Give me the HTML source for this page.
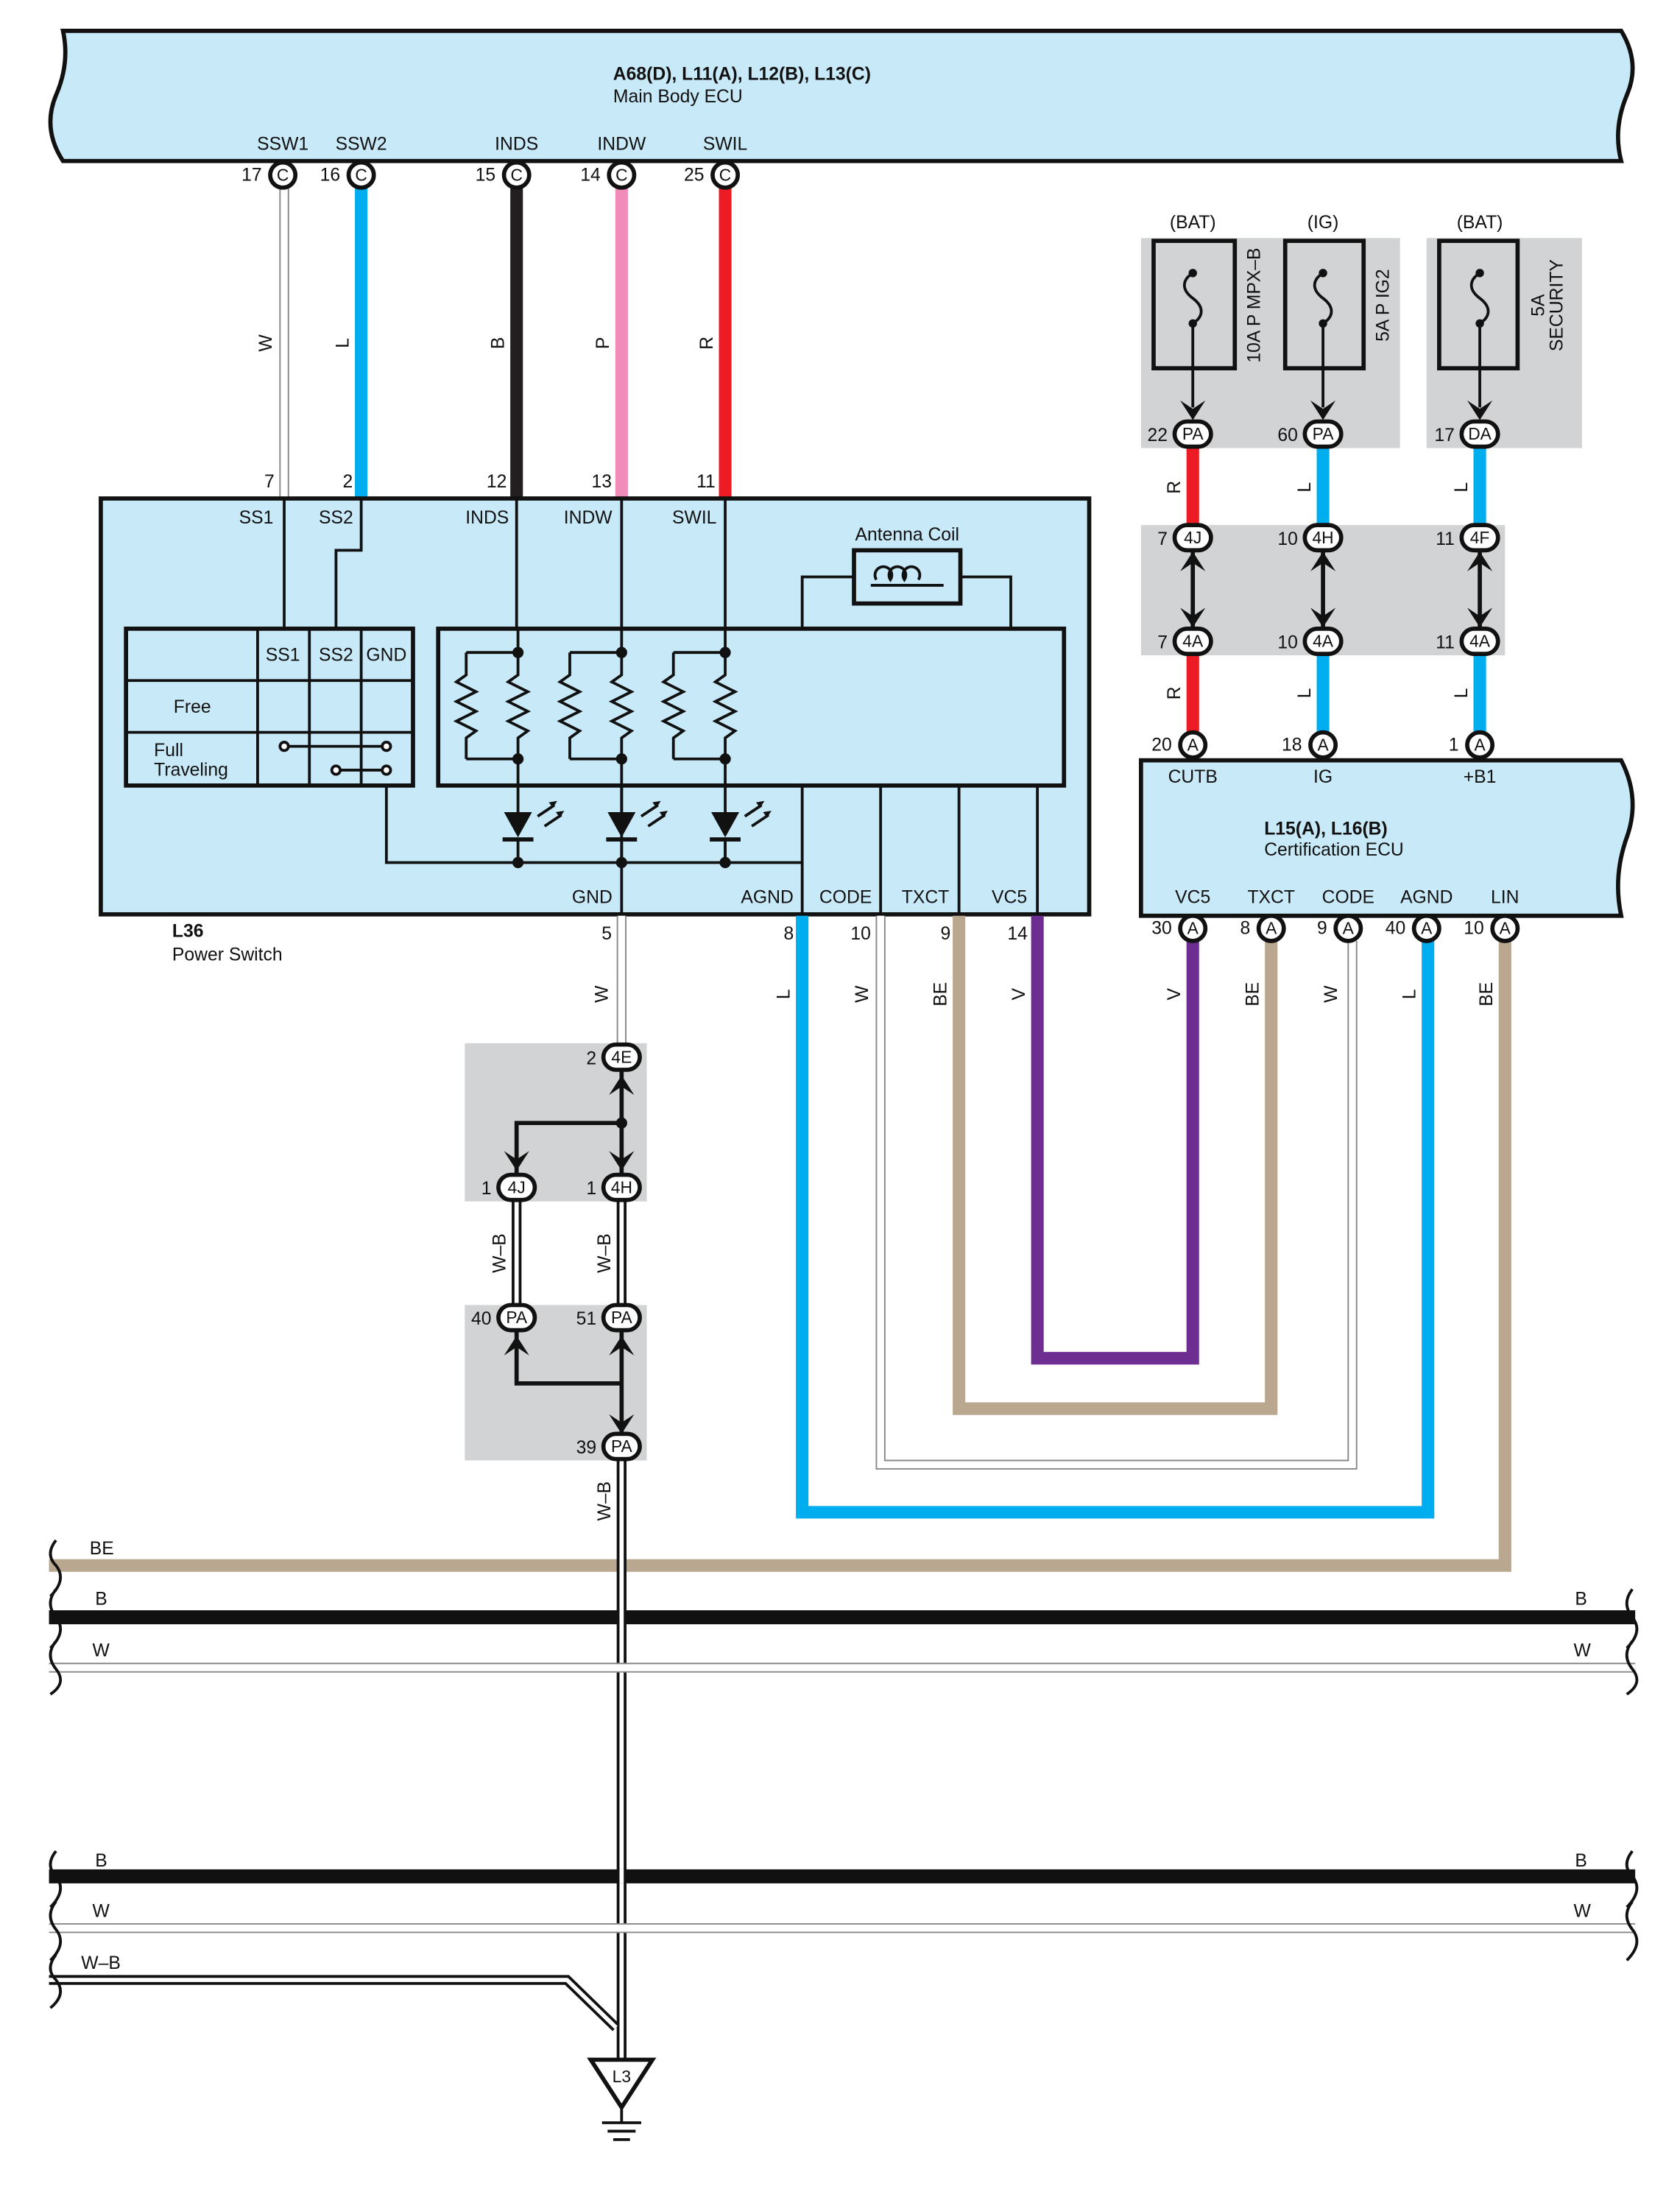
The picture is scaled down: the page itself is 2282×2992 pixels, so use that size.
<!DOCTYPE html>
<html><head><meta charset="utf-8"><style>
html,body{margin:0;padding:0;background:#fff}
svg{display:block}
text{font-family:"Liberation Sans",sans-serif;font-size:13px;fill:#111}
.b{font-weight:bold}
.m{text-anchor:middle}
.e{text-anchor:end}
.c{font-size:12px;text-anchor:middle}
</style></head><body>
<svg width="2282" height="2992" viewBox="0 0 1200 1573.3" preserveAspectRatio="none" xmlns="http://www.w3.org/2000/svg">
<rect width="1200" height="1574" fill="#fff"/>
<!-- Main body ECU -->
<path d="M45,22 L1158,22 Q1172,45 1162,68 Q1152,92 1158,115 L45,115 Q30,92 40,68 Q50,45 45,22Z" fill="#c8e9f8" stroke="#111" stroke-width="3"/>
<text x="530" y="57" class="b m">A68(D), L11(A), L12(B), L13(C)</text>
<text x="438" y="73">Main Body ECU</text>
<g class="m">
<text x="202" y="107" text-anchor="middle">SSW1</text><text x="258" y="107" text-anchor="middle">SSW2</text><text x="369" y="107" text-anchor="middle">INDS</text><text x="444" y="107" text-anchor="middle">INDW</text><text x="518" y="107" text-anchor="middle">SWIL</text>
</g>
<!-- top wires -->
<g fill="none">
<line x1="203" y1="134" x2="203" y2="356" stroke="#888" stroke-width="7"/><line x1="203" y1="134" x2="203" y2="356" stroke="#fff" stroke-width="5"/>
<line x1="258" y1="134" x2="258" y2="356" stroke="#00aeef" stroke-width="9"/>
<line x1="369" y1="134" x2="369" y2="356" stroke="#231f20" stroke-width="9"/>
<line x1="444" y1="134" x2="444" y2="356" stroke="#f08cb8" stroke-width="9"/>
<line x1="518" y1="134" x2="518" y2="356" stroke="#ed1c24" stroke-width="9"/>
</g>
<g font-size="12">
<text transform="translate(194,245) rotate(-90)" class="m">W</text>
<text transform="translate(249,245) rotate(-90)" class="m">L</text>
<text transform="translate(360,245) rotate(-90)" class="m">B</text>
<text transform="translate(435,245) rotate(-90)" class="m">P</text>
<text transform="translate(509,245) rotate(-90)" class="m">R</text>
</g>
<text x="196" y="348" class="e">7</text><text x="252" y="348" class="e">2</text><text x="362" y="348" class="e">12</text><text x="437" y="348" class="e">13</text><text x="511" y="348" class="e">11</text>
<g stroke="#111" stroke-width="3" fill="#fff">
<circle cx="202" cy="125" r="9"/><circle cx="258" cy="125" r="9"/><circle cx="369" cy="125" r="9"/><circle cx="444" cy="125" r="9"/><circle cx="518" cy="125" r="9"/>
</g>
<text x="202" y="129" class="c">C</text><text x="258" y="129" class="c">C</text><text x="369" y="129" class="c">C</text><text x="444" y="129" class="c">C</text><text x="518" y="129" class="c">C</text>
<text x="187" y="129" class="e">17</text><text x="243" y="129" class="e">16</text><text x="354" y="129" class="e">15</text><text x="429" y="129" class="e">14</text><text x="503" y="129" class="e">25</text>

<!-- Power switch -->
<rect x="72" y="356" width="706" height="297" fill="#c8e9f8" stroke="#111" stroke-width="3"/>
<g stroke="#111" stroke-width="2" fill="none">
<line x1="203" y1="356" x2="203" y2="449"/>
<polyline points="258,356 258,393 240,393 240,449"/>
<line x1="369" y1="356" x2="369" y2="449"/><line x1="444" y1="356" x2="444" y2="449"/><line x1="518" y1="356" x2="518" y2="449"/>
<polyline points="573,449 573,412 610,412"/><polyline points="686,412 722,412 722,449"/>
<rect x="610" y="393" width="76" height="38" stroke-width="3"/>
<path d="M626,414 a6,6 0 1 1 10,0 a6,6 0 1 1 10,0 a6,6 0 1 1 10,0" />
<line x1="622" y1="418" x2="674" y2="418"/>
<rect x="313" y="449" width="447" height="112" stroke-width="3"/>
<rect x="90" y="449" width="205" height="112" stroke-width="3"/>
<line x1="184" y1="449" x2="184" y2="561"/><line x1="221" y1="449" x2="221" y2="561"/><line x1="258" y1="449" x2="258" y2="561"/>
<line x1="90" y1="486" x2="295" y2="486"/><line x1="90" y1="523" x2="295" y2="523"/>
<line x1="203" y1="533" x2="276" y2="533"/><circle cx="203" cy="533" r="3" fill="#fff"/><circle cx="276" cy="533" r="3" fill="#fff"/>
<line x1="240" y1="550" x2="276" y2="550"/><circle cx="240" cy="550" r="3" fill="#fff"/><circle cx="276" cy="550" r="3" fill="#fff"/>
<polyline points="276,561 276,616 573,616"/>
<line x1="573" y1="561" x2="573" y2="653"/><line x1="629" y1="561" x2="629" y2="653"/><line x1="685" y1="561" x2="685" y2="653"/><line x1="741" y1="561" x2="741" y2="653"/>
<line x1="444" y1="561" x2="444" y2="653"/>
</g>
<!-- resistors & LEDs -->
<g stroke="#111" stroke-width="2" fill="none">
<g id="res">
<polyline points="333,466 370,466"/><polyline points="333,542 370,542"/>
<polyline points="370,449 370,482 363,487 377,494 363,501 377,508 363,515 377,522 370,527 370,580"/>
<polyline points="333,466 333,482 326,487 340,494 326,501 340,508 326,515 340,522 333,527 333,542"/>
<line x1="370" y1="600" x2="370" y2="616"/>
<line x1="384" y1="583" x2="396" y2="575"/><line x1="389" y1="590" x2="401" y2="582"/>
</g>
<use href="#res" x="74"/><use href="#res" x="148"/>
</g>
<g fill="#111">
<circle cx="370" cy="466" r="4"/><circle cx="370" cy="542" r="4"/><circle cx="444" cy="466" r="4"/><circle cx="444" cy="542" r="4"/><circle cx="518" cy="466" r="4"/><circle cx="518" cy="542" r="4"/>
<circle cx="370" cy="616" r="4"/><circle cx="444" cy="616" r="4"/><circle cx="518" cy="616" r="4"/>
<path d="M360,580 L380,580 L370,598Z"/><path d="M434,580 L454,580 L444,598Z"/><path d="M508,580 L528,580 L518,598Z"/>
<rect x="359" y="598" width="22" height="3"/><rect x="433" y="598" width="22" height="3"/><rect x="507" y="598" width="22" height="3"/>
<path d="M398,572 l-6,1 l3,4Z"/><path d="M403,579 l-6,1 l3,4Z"/><path d="M472,572 l-6,1 l3,4Z"/><path d="M477,579 l-6,1 l3,4Z"/><path d="M546,572 l-6,1 l3,4Z"/><path d="M551,579 l-6,1 l3,4Z"/>
</g>
<line x1="518" y1="600" x2="518" y2="616" stroke="#111" stroke-width="2"/>
<text x="183" y="374" class="m">SS1</text><text x="240" y="374" class="m">SS2</text><text x="348" y="374" class="m">INDS</text><text x="420" y="374" class="m">INDW</text><text x="496" y="374" class="m">SWIL</text>
<text x="648" y="386" class="m">Antenna Coil</text>
<text x="202" y="472" class="m">SS1</text><text x="240" y="472" class="m">SS2</text><text x="276" y="472" class="m">GND</text>
<text x="124" y="509">Free</text><text x="110" y="540">Full</text><text x="110" y="554">Traveling</text>
<text x="423" y="645" class="m">GND</text><text x="548" y="645" class="m">AGND</text><text x="604" y="645" class="m">CODE</text><text x="661" y="645" class="m">TXCT</text><text x="721" y="645" class="m">VC5</text>
<text x="123" y="669" class="b">L36</text><text x="123" y="686">Power Switch</text>
<text x="437" y="671" class="e">5</text><text x="567" y="671" class="e">8</text><text x="622" y="671" class="e">10</text><text x="679" y="671" class="e">9</text><text x="734" y="671" class="e">14</text>

<!-- lower right wires -->
<g fill="none" stroke-linejoin="miter">
<polyline points="573,654 573,1080 1020,1080 1020,672" stroke="#00aeef" stroke-width="9"/>
<polyline points="629,654 629,1046 966,1046 966,672" stroke="#888" stroke-width="7"/>
<polyline points="629,654 629,1046 966,1046 966,672" stroke="#fff" stroke-width="5"/>
<polyline points="685,654 685,1006 908,1006 908,672" stroke="#b9a78f" stroke-width="9"/>
<polyline points="741,654 741,970 852,970 852,672" stroke="#6d2d91" stroke-width="9"/>
<polyline points="1075,672 1075,1118 35,1118" stroke="#b9a78f" stroke-width="9"/>
</g>
<g font-size="12">
<text transform="translate(564,710) rotate(-90)" class="m">L</text>
<text transform="translate(620,710) rotate(-90)" class="m">W</text>
<text transform="translate(676,710) rotate(-90)" class="m">BE</text>
<text transform="translate(732,710) rotate(-90)" class="m">V</text>
<text transform="translate(843,710) rotate(-90)" class="m">V</text>
<text transform="translate(899,710) rotate(-90)" class="m">BE</text>
<text transform="translate(955,710) rotate(-90)" class="m">W</text>
<text transform="translate(1011,710) rotate(-90)" class="m">L</text>
<text transform="translate(1066,710) rotate(-90)" class="m">BE</text>
<text transform="translate(434,710) rotate(-90)" class="m">W</text>
</g>

<!-- Fuses -->
<rect x="815" y="170" width="113" height="150" fill="#d1d3d4"/>
<rect x="918" y="170" width="82" height="150" fill="#d1d3d4"/>
<rect x="1019" y="170" width="111" height="150" fill="#d1d3d4"/>
<rect x="815" y="375" width="260" height="93" fill="#d1d3d4"/>
<g stroke="#111" stroke-width="3" fill="none">
<rect x="824" y="172" width="58" height="91"/><rect x="918" y="172" width="56" height="91"/><rect x="1028" y="172" width="56" height="91"/>
<path d="M852,195 c-8,5 -8,12 0,18 c8,6 8,13 0,18 M852,231 v60" stroke-width="2"/>
<path d="M945,195 c-8,5 -8,12 0,18 c8,6 8,13 0,18 M945,231 v60" stroke-width="2"/>
<path d="M1057,195 c-8,5 -8,12 0,18 c8,6 8,13 0,18 M1057,231 v60" stroke-width="2"/>
</g>
<g fill="#111"><circle cx="852" cy="195" r="3"/><circle cx="852" cy="231" r="3"/><circle cx="945" cy="195" r="3"/><circle cx="945" cy="231" r="3"/><circle cx="1057" cy="195" r="3"/><circle cx="1057" cy="231" r="3"/>
<path d="M843,286 l9,14 l9,-14 l-9,6Z"/><path d="M936,286 l9,14 l9,-14 l-9,6Z"/><path d="M1048,286 l9,14 l9,-14 l-9,6Z"/></g>
<text x="852" y="163" class="m">(BAT)</text><text x="945" y="163" class="m">(IG)</text><text x="1057" y="163" class="m">(BAT)</text>
<text transform="translate(900,218) rotate(-90)" class="m">10A P MPX–B</text>
<text transform="translate(992,218) rotate(-90)" class="m">5A P IG2</text>
<text transform="translate(1103,218) rotate(-90)" class="m">5A</text>
<text transform="translate(1116,218) rotate(-90)" class="m">SECURITY</text>
<g fill="none" stroke-width="9">
<line x1="852" y1="318" x2="852" y2="376" stroke="#ed1c24"/><line x1="945" y1="318" x2="945" y2="376" stroke="#00aeef"/><line x1="1057" y1="318" x2="1057" y2="376" stroke="#00aeef"/>
<line x1="852" y1="466" x2="852" y2="524" stroke="#ed1c24"/><line x1="945" y1="466" x2="945" y2="524" stroke="#00aeef"/><line x1="1057" y1="466" x2="1057" y2="524" stroke="#00aeef"/>
</g>
<g stroke="#111" stroke-width="3"><line x1="852" y1="393" x2="852" y2="449"/><line x1="945" y1="393" x2="945" y2="449"/><line x1="1057" y1="393" x2="1057" y2="449"/></g>
<g fill="#111">
<path d="M843,408 l9,-14 l9,14 l-9,-6Z"/><path d="M843,434 l9,14 l9,-14 l-9,6Z"/>
<path d="M936,408 l9,-14 l9,14 l-9,-6Z"/><path d="M936,434 l9,14 l9,-14 l-9,6Z"/>
<path d="M1048,408 l9,-14 l9,14 l-9,-6Z"/><path d="M1048,434 l9,14 l9,-14 l-9,6Z"/>
</g>
<g font-size="12">
<text transform="translate(843,348) rotate(-90)" class="m">R</text><text transform="translate(936,348) rotate(-90)" class="m">L</text><text transform="translate(1048,348) rotate(-90)" class="m">L</text>
<text transform="translate(843,495) rotate(-90)" class="m">R</text><text transform="translate(936,495) rotate(-90)" class="m">L</text><text transform="translate(1048,495) rotate(-90)" class="m">L</text>
</g>
<g stroke="#111" stroke-width="3" fill="#fff">
<rect x="839" y="301" width="26" height="18" rx="9"/><rect x="932" y="301" width="26" height="18" rx="9"/><rect x="1044" y="301" width="26" height="18" rx="9"/>
<rect x="839" y="375" width="26" height="18" rx="9"/><rect x="932" y="375" width="26" height="18" rx="9"/><rect x="1044" y="375" width="26" height="18" rx="9"/>
<rect x="839" y="449" width="26" height="18" rx="9"/><rect x="932" y="449" width="26" height="18" rx="9"/><rect x="1044" y="449" width="26" height="18" rx="9"/>
</g>
<text x="852" y="314" class="c">PA</text><text x="945" y="314" class="c">PA</text><text x="1057" y="314" class="c">DA</text>
<text x="852" y="388" class="c">4J</text><text x="945" y="388" class="c">4H</text><text x="1057" y="388" class="c">4F</text>
<text x="852" y="462" class="c">4A</text><text x="945" y="462" class="c">4A</text><text x="1057" y="462" class="c">4A</text>
<text x="834" y="315" class="e">22</text><text x="927" y="315" class="e">60</text><text x="1039" y="315" class="e">17</text>
<text x="834" y="389" class="e">7</text><text x="927" y="389" class="e">10</text><text x="1039" y="389" class="e">11</text>
<text x="834" y="463" class="e">7</text><text x="927" y="463" class="e">10</text><text x="1039" y="463" class="e">11</text>

<!-- Certification ECU -->
<path d="M815,543 L1158,543 Q1172,570 1162,598 Q1152,626 1158,654 L815,654Z" fill="#c8e9f8" stroke="#111" stroke-width="3"/>
<text x="852" y="559" class="m">CUTB</text><text x="945" y="559" class="m">IG</text><text x="1057" y="559" class="m">+B1</text>
<text x="903" y="596" class="b">L15(A), L16(B)</text><text x="903" y="611">Certification ECU</text>
<text x="852" y="645" class="m">VC5</text><text x="908" y="645" class="m">TXCT</text><text x="963" y="645" class="m">CODE</text><text x="1019" y="645" class="m">AGND</text><text x="1075" y="645" class="m">LIN</text>
<g stroke="#111" stroke-width="3" fill="#fff">
<circle cx="852" cy="532" r="9"/><circle cx="945" cy="532" r="9"/><circle cx="1057" cy="532" r="9"/>
<circle cx="852" cy="663" r="9"/><circle cx="908" cy="663" r="9"/><circle cx="963" cy="663" r="9"/><circle cx="1019" cy="663" r="9"/><circle cx="1075" cy="663" r="9"/>
</g>
<text x="852" y="536" class="c">A</text><text x="945" y="536" class="c">A</text><text x="1057" y="536" class="c">A</text>
<text x="852" y="667" class="c">A</text><text x="908" y="667" class="c">A</text><text x="963" y="667" class="c">A</text><text x="1019" y="667" class="c">A</text><text x="1075" y="667" class="c">A</text>
<text x="837" y="536" class="e">20</text><text x="930" y="536" class="e">18</text><text x="1042" y="536" class="e">1</text>
<text x="837" y="667" class="e">30</text><text x="893" y="667" class="e">8</text><text x="948" y="667" class="e">9</text><text x="1004" y="667" class="e">40</text><text x="1060" y="667" class="e">10</text>

<!-- ground path junctions -->
<rect x="332" y="745" width="130" height="113" fill="#d1d3d4"/>
<rect x="332" y="932" width="130" height="111" fill="#d1d3d4"/>
<g fill="none">
<line x1="444" y1="654" x2="444" y2="746" stroke="#888" stroke-width="7"/><line x1="444" y1="654" x2="444" y2="746" stroke="#fff" stroke-width="5"/>
<line x1="444" y1="857" x2="444" y2="932" stroke="#111" stroke-width="7"/><line x1="444" y1="857" x2="444" y2="932" stroke="#fff" stroke-width="3"/>
<line x1="369" y1="857" x2="369" y2="932" stroke="#111" stroke-width="7"/><line x1="369" y1="857" x2="369" y2="932" stroke="#fff" stroke-width="3"/>
<line x1="444" y1="1042" x2="444" y2="1472" stroke="#111" stroke-width="7"/><line x1="444" y1="1042" x2="444" y2="1472" stroke="#fff" stroke-width="3"/>
</g>
<g stroke="#111" stroke-width="3" fill="none">
<line x1="444" y1="764" x2="444" y2="840"/><polyline points="444,802 369,802 369,840"/>
<line x1="444" y1="950" x2="444" y2="1025"/><polyline points="369,950 369,988 444,988"/>
</g>
<g fill="#111">
<circle cx="444" cy="802" r="4"/>
<path d="M435,782 l9,-14 l9,14 l-9,-6Z"/><path d="M435,822 l9,14 l9,-14 l-9,6Z"/><path d="M360,822 l9,14 l9,-14 l-9,6Z"/>
<path d="M435,968 l9,-14 l9,14 l-9,-6Z"/><path d="M360,968 l9,-14 l9,14 l-9,-6Z"/><path d="M435,1010 l9,14 l9,-14 l-9,6Z"/>
</g>
<g stroke="#111" stroke-width="3" fill="#fff">
<rect x="431" y="746" width="26" height="18" rx="9"/><rect x="356" y="839" width="26" height="18" rx="9"/><rect x="431" y="839" width="26" height="18" rx="9"/>
<rect x="356" y="932" width="26" height="18" rx="9"/><rect x="431" y="932" width="26" height="18" rx="9"/><rect x="431" y="1024" width="26" height="18" rx="9"/>
</g>
<text x="444" y="759" class="c">4E</text><text x="369" y="852" class="c">4J</text><text x="444" y="852" class="c">4H</text>
<text x="369" y="945" class="c">PA</text><text x="444" y="945" class="c">PA</text><text x="444" y="1037" class="c">PA</text>
<text x="426" y="760" class="e">2</text><text x="351" y="853" class="e">1</text><text x="426" y="853" class="e">1</text>
<text x="351" y="946" class="e">40</text><text x="426" y="946" class="e">51</text><text x="426" y="1038" class="e">39</text>
<g font-size="12">
<text transform="translate(361,895) rotate(-90)" class="m">W–B</text>
<text transform="translate(436,895) rotate(-90)" class="m">W–B</text>
<text transform="translate(436,1072) rotate(-90)" class="m">W–B</text>
</g>

<!-- buses -->
<g fill="none">
<line x1="35" y1="1155" x2="1168" y2="1155" stroke="#111" stroke-width="10"/>
<line x1="35" y1="1191" x2="1168" y2="1191" stroke="#888" stroke-width="7"/><line x1="35" y1="1191" x2="1168" y2="1191" stroke="#fff" stroke-width="5"/>
<line x1="35" y1="1340" x2="1168" y2="1340" stroke="#111" stroke-width="10"/>
<line x1="35" y1="1377" x2="1168" y2="1377" stroke="#888" stroke-width="7"/><line x1="35" y1="1377" x2="1168" y2="1377" stroke="#fff" stroke-width="5"/>
<polyline points="35,1414 405,1414 440,1448" stroke="#111" stroke-width="7"/><polyline points="35,1414 405,1414 440,1448" stroke="#fff" stroke-width="3"/>
</g>
<line x1="444" y1="1150" x2="444" y2="1160" stroke="#fff" stroke-width="3"/>
<line x1="444" y1="1335" x2="444" y2="1345" stroke="#fff" stroke-width="3"/>
<g stroke="#111" stroke-width="2" fill="none">
<path d="M40,1100 q-8,10 0,18 q8,10 -4,22 M40,1135 q-8,10 0,20 q8,10 -4,22 M40,1172 q-8,10 0,20 q8,10 -4,18"/>
<path d="M1166,1135 q-8,10 0,20 q8,10 -4,22 M1166,1172 q-8,10 0,20 q8,10 -4,18"/>
<path d="M40,1322 q-8,10 0,18 q8,10 -4,22 M40,1358 q-8,10 0,20 q8,10 -4,22 M40,1396 q-8,10 0,18 q8,10 -4,20"/>
<path d="M1166,1322 q-8,10 0,18 q8,10 -4,22 M1166,1358 q-8,10 0,20 q8,10 -4,22"/>
</g>
<text x="64" y="1110">BE</text>
<text x="68" y="1146">B</text><text x="1125" y="1146">B</text>
<text x="66" y="1183">W</text><text x="1124" y="1183">W</text>
<text x="68" y="1333">B</text><text x="1125" y="1333">B</text>
<text x="66" y="1369">W</text><text x="1124" y="1369">W</text>
<text x="58" y="1406">W–B</text>

<!-- ground -->
<path d="M422,1471 L466,1471 L444,1505Z" fill="#fff" stroke="#111" stroke-width="3"/>
<text x="444" y="1487" class="c">L3</text>
<g stroke="#111" stroke-width="2"><line x1="444" y1="1505" x2="444" y2="1516"/><line x1="430" y1="1516" x2="458" y2="1516"/><line x1="434" y1="1522" x2="454" y2="1522"/><line x1="438" y1="1528" x2="450" y2="1528"/></g>
</svg>
</body></html>
